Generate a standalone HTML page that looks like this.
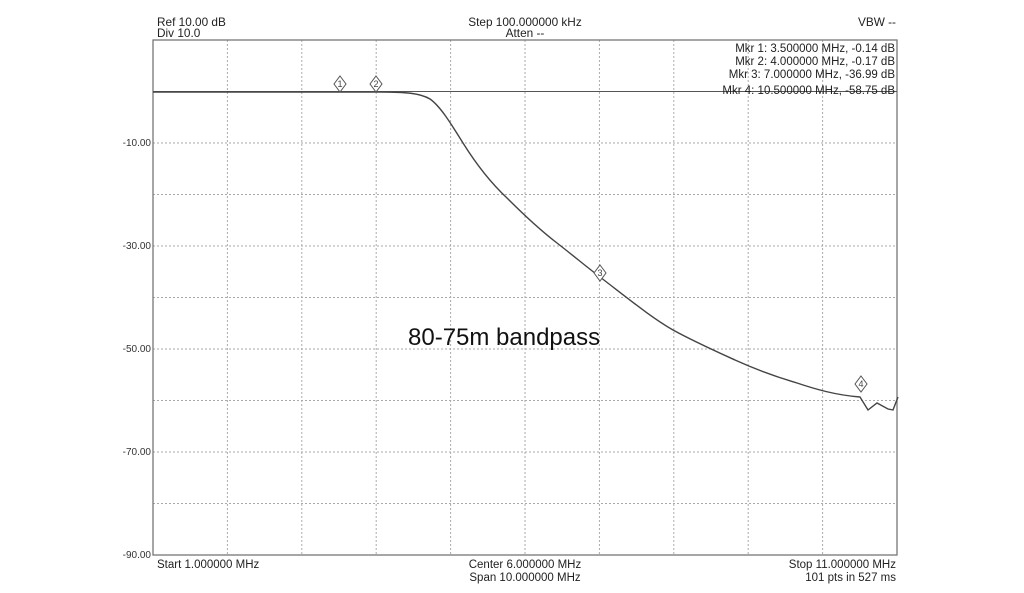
<!DOCTYPE html>
<html><head><meta charset="utf-8"><style>
html,body{margin:0;padding:0;background:#fff;}
svg{display:block;font-family:"Liberation Sans",Arial,sans-serif;}
</style></head><body>
<svg width="1024" height="593" viewBox="0 0 1024 593" xmlns="http://www.w3.org/2000/svg">
<rect width="1024" height="593" fill="#fff"/>
<g stroke="#aaa" stroke-width="1" stroke-dasharray="2,2" fill="none">
<line x1="227.4" y1="40" x2="227.4" y2="555"/><line x1="301.8" y1="40" x2="301.8" y2="555"/>
<line x1="376.2" y1="40" x2="376.2" y2="555"/><line x1="450.6" y1="40" x2="450.6" y2="555"/>
<line x1="525" y1="40" x2="525" y2="555"/><line x1="599.4" y1="40" x2="599.4" y2="555"/>
<line x1="673.8" y1="40" x2="673.8" y2="555"/><line x1="748.2" y1="40" x2="748.2" y2="555"/>
<line x1="822.6" y1="40" x2="822.6" y2="555"/>
<line x1="153" y1="143" x2="897" y2="143"/><line x1="153" y1="194.5" x2="897" y2="194.5"/>
<line x1="153" y1="246" x2="897" y2="246"/><line x1="153" y1="297.5" x2="897" y2="297.5"/>
<line x1="153" y1="349" x2="897" y2="349"/><line x1="153" y1="400.5" x2="897" y2="400.5"/>
<line x1="153" y1="452" x2="897" y2="452"/><line x1="153" y1="503.5" x2="897" y2="503.5"/>
</g>
<rect x="153" y="40" width="744" height="515" fill="none" stroke="#777" stroke-width="1.3"/>
<line x1="153" y1="91.5" x2="897" y2="91.5" stroke="#555" stroke-width="1"/>
<path fill="none" stroke="#444" stroke-width="1.4" d="M153,92 L380,92 C405,92 420,93 430,99 C440,106 450,122 463,143 C478,167 492,184 507,198 C525,216 540,230 557,243 C575,257 588,268 600,277 C630,300 652,318 673,330 C693,341 713,350 735,360 C757,370 777,377 797,383 C815,389 835,395 860,397 L868,410 L877,403 L888,409 L893,410 L898,397"/>
<g stroke="#555" stroke-width="1" fill="#fff" font-size="9" text-anchor="middle">
<polygon points="340,76 346,84 340,92 334,84"/><text x="340" y="87" fill="#444" stroke="none">1</text>
<polygon points="376,76 382,84 376,92 370,84"/><text x="376" y="87" fill="#444" stroke="none">2</text>
<polygon points="600,265 606,273 600,281 594,273"/><text x="600" y="276" fill="#444" stroke="none">3</text>
<polygon points="861,376 867,384 861,392 855,384"/><text x="861" y="387" fill="#444" stroke="none">4</text>
</g>
<g font-size="11.8" fill="#222">
<text x="157" y="26">Ref 10.00 dB</text>
<text x="157" y="37">Div 10.0</text>
<text x="525" y="26" text-anchor="middle">Step 100.000000 kHz</text>
<text x="525" y="37" text-anchor="middle">Atten --</text>
<text x="896" y="26" text-anchor="end">VBW --</text>
</g>
<g font-size="11.5" fill="#222">
<text x="895" y="52" text-anchor="end">Mkr 1: 3.500000 MHz, -0.14 dB</text>
<text x="895" y="65" text-anchor="end">Mkr 2: 4.000000 MHz, -0.17 dB</text>
<text x="895" y="78" text-anchor="end">Mkr 3: 7.000000 MHz, -36.99 dB</text>
<text x="895" y="94" text-anchor="end">Mkr 4: 10.500000 MHz, -58.75 dB</text>
<text x="157" y="568">Start 1.000000 MHz</text>
<text x="525" y="568" text-anchor="middle">Center 6.000000 MHz</text>
<text x="525" y="581" text-anchor="middle">Span 10.000000 MHz</text>
<text x="896" y="568" text-anchor="end">Stop 11.000000 MHz</text>
<text x="896" y="581" text-anchor="end">101 pts in 527 ms</text>
</g>
<g font-size="10" fill="#333" text-anchor="end">
<text x="151" y="146">-10.00</text><text x="151" y="249">-30.00</text>
<text x="151" y="352">-50.00</text><text x="151" y="455">-70.00</text>
<text x="151" y="558">-90.00</text>
</g>
<text x="408" y="345" font-size="24" fill="#111">80-75m bandpass</text>
</svg>
</body></html>
